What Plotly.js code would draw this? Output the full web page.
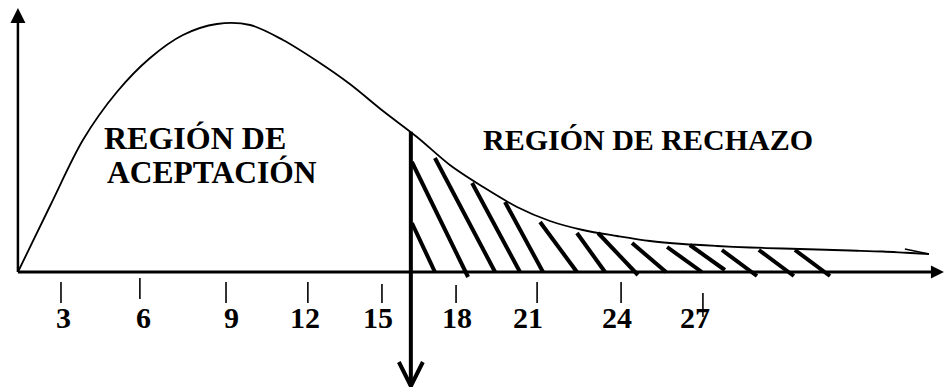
<!DOCTYPE html>
<html>
<head>
<meta charset="utf-8">
<script src="https://cdn.plot.ly/plotly-3.0.1.min.js"></script>
<style>
  html, body { margin: 0; padding: 0; background: #fff; }
  #graph { width: 945px; height: 387px; }
</style>
</head>
<body>
<div id="graph"></div>
<script>
// Curva de densidad
const curveX = [1.37, 2.57, 3.80, 5.07, 6.31, 7.54, 8.81, 10.05, 11.28, 12.55, 13.78, 15.02, 16.29, 17.52, 18.76, 20.03, 21.26, 22.49, 23.77, 25.00, 26.23, 27.50, 28.74, 29.97, 31.24, 32.48, 33.71, 34.57, 35.43];
const curveY = [0, 0.0264, 0.0528, 0.072, 0.0856, 0.0948, 0.0992, 0.0988, 0.0928, 0.0844, 0.0752, 0.0644, 0.054, 0.0428, 0.034, 0.026, 0.0204, 0.0168, 0.0144, 0.0124, 0.0112, 0.0104, 0.0098, 0.0094, 0.009, 0.0086, 0.0082, 0.0077, 0.0072];
// pequeño gancho al final de la curva
const hookX = [35.43, 34.53];
const hookY = [0.0072, 0.0092];

// Valor crítico (flecha vertical)
const critX = 16.06;
const critTop = 0.0561;
const critBottom = -0.0456;

// Rayado de la región de rechazo: inicio (arriba) y fin (abajo)
const hatchX0 = [16.10, 16.10, 16.96, 18.35, 19.58, 20.89, 22.27, 23.06, 24.33, 25.64, 26.49, 27.69, 29.07, 30.42];
const hatchY0 = [0.0196, 0.044, 0.0456, 0.0356, 0.028, 0.02, 0.0156, 0.0156, 0.0116, 0.01, 0.0108, 0.0088, 0.0088, 0.0088];
const hatchX1 = [16.96, 18.20, 19.21, 20.14, 21.00, 22.27, 23.32, 24.55, 25.60, 26.94, 27.80, 29.00, 30.38, 31.73];
const hatchY1 = [0, -0.002, 0, 0, 0, 0, 0, -0.0012, 0, 0, 0.0008, -0.0016, -0.0016, -0.0016];

// Marcas del eje x (dibujadas a mano, no equidistantes)
const tickLabels = ['3', '6', '9', '12', '15', '18', '21', '24', '27'];
const tickPos = [2.98, 5.93, 9.15, 12.21, 14.98, 17.75, 20.78, 23.92, 26.98];
const tickTop = [-0.004, -0.0024, -0.004, -0.004, -0.0048, -0.0052, -0.004, -0.004, -0.0084];
const tickBot = [-0.0124, -0.0108, -0.0124, -0.0124, -0.0124, -0.0124, -0.0124, -0.0124, -0.018];
const labelPos = [3.09, 6.08, 9.37, 12.1, 14.83, 17.78, 20.44, 23.77, 26.68];
const labelY = -0.0182;

// Ejes
const originX = 1.37;
const xAxisEnd = 35.99;
const yAxisEnd = 0.1056;

const xRange = [0.7, 36.03];
const yRange = [-0.046, 0.1088];

// px -> unidades (para las puntas de flecha)
const uPerPx = (xRange[1] - xRange[0]) / 945;
const vPerPx = (yRange[1] - yRange[0]) / 387;

function segments(x0, y0, x1, y1) {
    const xs = [], ys = [];
    for (let i = 0; i < x0.length; i++) {
        xs.push(x0[i], x1[i], null);
        ys.push(y0[i], y1[i], null);
    }
    return { x: xs, y: ys };
}

const hatch = segments(hatchX0, hatchY0, hatchX1, hatchY1);
const ticks = segments(tickPos, tickTop, tickPos, tickBot);

const black = '#000';
const serif = (size) => ({ family: 'Liberation Serif', size: size, color: black, weight: 'bold' });

const traces = [
    // eje x
    { x: [originX, xAxisEnd - 10 * uPerPx], y: [0, 0], mode: 'lines', line: { color: black, width: 3 } },
    { x: [xAxisEnd], y: [0], mode: 'markers', marker: { symbol: 'arrow-right', size: 13, color: black, line: { width: 0 } } },
    // eje y
    { x: [originX, originX], y: [0, yAxisEnd - 12 * vPerPx], mode: 'lines', line: { color: black, width: 2.5 } },
    { x: [originX], y: [yAxisEnd], mode: 'markers', marker: { symbol: 'arrow-up', size: 15, color: black, line: { width: 0 } } },
    // curva
    { x: curveX, y: curveY, mode: 'lines', line: { color: black, width: 1.8, shape: 'spline', smoothing: 0.9 } },
    { x: hookX, y: hookY, mode: 'lines', line: { color: black, width: 1.6 } },
    // rayado
    { x: hatch.x, y: hatch.y, mode: 'lines', line: { color: black, width: 4 } },
    // marcas
    { x: ticks.x, y: ticks.y, mode: 'lines', line: { color: black, width: 1.6 } },
    // flecha del valor crítico
    { x: [critX, critX], y: [critTop, critBottom], mode: 'lines', line: { color: black, width: 4 } },
    { x: [critX - 12 * uPerPx, critX, critX + 12 * uPerPx],
      y: [critBottom + 24 * vPerPx, critBottom, critBottom + 24 * vPerPx],
      mode: 'lines', line: { color: black, width: 4 } }
];
traces.forEach(t => { t.cliponaxis = false; t.hoverinfo = 'skip'; });

const annotations = tickLabels.map((t, i) => ({
    x: labelPos[i], y: labelY, text: '<b>' + t + '</b>', showarrow: false,
    xanchor: 'center', yanchor: 'middle', font: serif(30)
}));
annotations.push(
    { x: 4.51, y: 0.0536, text: '<b>REGIÓN DE</b>', showarrow: false, xanchor: 'left', yanchor: 'middle', font: serif(32) },
    { x: 4.62, y: 0.0398, text: '<b>ACEPTACIÓN</b>', showarrow: false, xanchor: 'left', yanchor: 'middle', font: serif(31.5) },
    { x: 24.92, y: 0.0532, text: '<b>REGIÓN DE RECHAZO</b>', showarrow: false, xanchor: 'center', yanchor: 'middle', font: serif(30) }
);

Plotly.newPlot('graph', traces, {
    width: 945,
    height: 387,
    margin: { l: 0, r: 0, t: 0, b: 0 },
    paper_bgcolor: '#fff',
    plot_bgcolor: '#fff',
    showlegend: false,
    xaxis: { range: xRange, visible: false, fixedrange: true },
    yaxis: { range: yRange, visible: false, fixedrange: true },
    annotations: annotations
}, { staticPlot: true });
</script>
</body>
</html>
